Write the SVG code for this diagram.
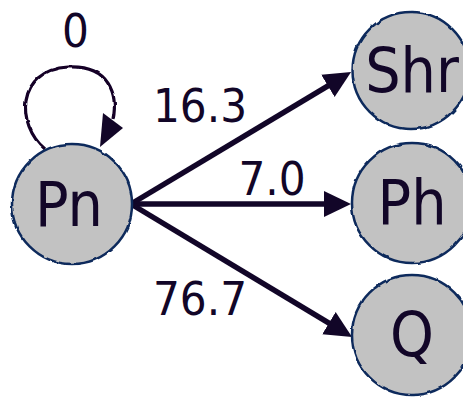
<svg xmlns="http://www.w3.org/2000/svg" width="463" height="397" viewBox="0 0 463 397">
  <style>
    .node circle { fill: #c2c2c2; stroke: #0e2a5c; stroke-width: 2.5; }
    .label { font-family: "DejaVu Sans Condensed", "DejaVu Sans", sans-serif; font-stretch: condensed; fill: #120628; text-anchor: middle; }
    .nl { font-size: 62px; }
    .el { font-size: 47px; }
    .edge { stroke: #120628; stroke-width: 5.5; fill: none; }
    .loop { stroke: #120628; stroke-width: 3.2; fill: none; }
  </style>
  <defs>
    <filter id="rough" x="-10%" y="-10%" width="120%" height="120%">
      <feTurbulence type="fractalNoise" baseFrequency="0.12" numOctaves="1" seed="3" result="n"/>
      <feDisplacementMap in="SourceGraphic" in2="n" scale="3" xChannelSelector="R" yChannelSelector="G"/>
    </filter>
    <marker id="arrow" markerUnits="userSpaceOnUse" viewBox="0 -15 30 30" markerWidth="30" markerHeight="30" refX="1" refY="0" orient="auto">
      <path d="M0,-13 L27,0 L0,13 z" fill="#120628"/>
    </marker>
  </defs>

  <g id="connectors">
    <path class="loop" filter="url(#rough)" d="M45,149 C16,125 16,70 68,67 C110,65 118,95 113,120"/>
    <polygon points="103,113 123,128 100,147" fill="#120628"/>
    <line class="edge" x1="131" y1="204" x2="328.8" y2="85.4" marker-end="url(#arrow)"/>
    <line class="edge" x1="131" y1="204" x2="325" y2="204" marker-end="url(#arrow)"/>
    <line class="edge" x1="131" y1="204" x2="329.8" y2="323.6" marker-end="url(#arrow)"/>
    <text class="label el" x="75.5" y="47">0</text>
    <text class="label el" x="200" y="122">16.3</text>
    <text class="label el" x="272" y="195">7.0</text>
    <text class="label el" x="200" y="315">76.7</text>
  </g>

  <g id="node-Pn" class="node">
    <circle cx="72" cy="204" r="60" filter="url(#rough)"/>
    <text class="label nl" x="69" y="226">Pn</text>
  </g>
  <g id="node-Shr" class="node">
    <circle cx="411" cy="70.5" r="58.5" filter="url(#rough)"/>
    <text class="label nl" x="412" y="92">Shr</text>
  </g>
  <g id="node-Ph" class="node">
    <circle cx="412" cy="203" r="60" filter="url(#rough)"/>
    <text class="label nl" x="412" y="224">Ph</text>
  </g>
  <g id="node-Q" class="node">
    <circle cx="412" cy="335" r="60" filter="url(#rough)"/>
    <text class="label nl" x="412" y="356">Q</text>
  </g>
</svg>
